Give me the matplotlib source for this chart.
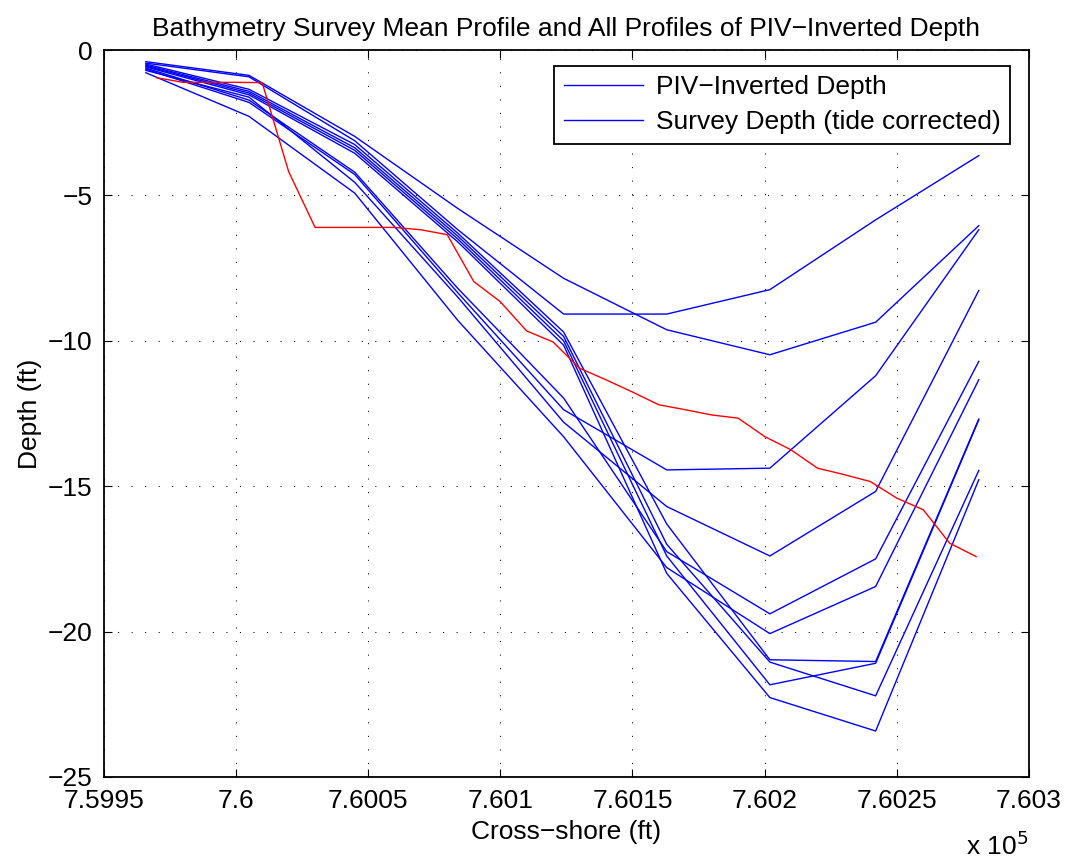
import matplotlib
matplotlib.use("Agg")
import matplotlib.pyplot as plt

# Cross-shore stations of the PIV-inverted profiles (ft)
profile_x = [759966, 760005, 760045, 760084, 760124, 760163, 760202, 760242, 760281]

# PIV-inverted depth profiles (ft), one list per profile
profile_01 = [-0.45, -0.92, -3.12, -6.18, -9.08, -9.08, -8.24, -5.84, -3.63]
profile_02 = [-0.40, -0.87, -2.97, -5.45, -7.85, -9.62, -10.48, -9.36, -6.04]
profile_03 = [-0.66, -1.80, -4.28, -8.35, -12.37, -14.44, -14.38, -11.20, -6.18]
profile_04 = [-0.70, -1.62, -4.55, -8.50, -12.80, -15.70, -17.40, -15.18, -8.27]
profile_05 = [-0.62, -1.72, -4.20, -8.20, -11.97, -17.25, -19.39, -17.50, -10.71]
profile_06 = [-0.78, -2.28, -4.92, -9.30, -13.30, -17.80, -20.07, -18.45, -11.34]
profile_07 = [-0.48, -1.35, -3.25, -6.30, -9.70, -16.30, -20.97, -21.03, -12.69]
profile_08 = [-0.52, -1.42, -3.36, -6.40, -9.85, -17.00, -21.05, -22.21, -14.46]
profile_09 = [-0.55, -1.48, -3.45, -6.50, -10.00, -17.40, -21.83, -21.09, -12.72]
profile_10 = [-0.58, -1.54, -3.55, -6.60, -10.15, -18.00, -22.27, -23.42, -14.78]

# Mean bathymetry survey profile (ft)
survey_x = [759970, 759980, 759990, 760000, 760010, 760020, 760030, 760040,
            760050, 760060, 760070, 760080, 760090, 760100, 760110, 760120,
            760130, 760140, 760150, 760160, 760170, 760180, 760190, 760200,
            760210, 760220, 760230, 760240, 760250, 760260, 760270, 760280]
survey_depth = [-0.95, -1.11, -1.11, -1.11, -1.12, -4.18, -6.10, -6.10,
                -6.10, -6.10, -6.18, -6.35, -7.96, -8.65, -9.66, -10.04,
                -10.94, -11.34, -11.76, -12.20, -12.37, -12.55, -12.66, -13.29,
                -13.75, -14.38, -14.60, -14.84, -15.41, -15.81, -16.96, -17.42]

x_ticks = [759950, 760000, 760050, 760100, 760150, 760200, 760250, 760300]
x_tick_labels = ["7.5995", "7.6", "7.6005", "7.601", "7.6015", "7.602", "7.6025", "7.603"]
y_ticks = [-25, -20, -15, -10, -5, 0]
y_tick_labels = ["\u221225", "\u221220", "\u221215", "\u221210", "\u22125", "0"]
legend_labels = ["PIV\u2212Inverted Depth", "Survey Depth (tide corrected)"]

plt.rcParams["font.family"] = ["Liberation Sans", "DejaVu Sans"]
FS = 19

fig = plt.figure(figsize=(10.73, 8.63), dpi=100)
ax = fig.add_axes([0.0965, 0.0997, 0.8625, 0.8423])

profiles = [profile_01, profile_02, profile_03, profile_04, profile_05,
            profile_06, profile_07, profile_08, profile_09, profile_10]
handles = []
for depth in profiles:
    (h,) = ax.plot(profile_x, depth, color=(0, 0, 1), lw=1.0)
    handles.append(h)
ax.plot(survey_x, survey_depth, color=(1, 0, 0), lw=1.0)

ax.set_xlim(x_ticks[0], x_ticks[-1])
ax.set_ylim(-25, 0)
ax.set_xticks(x_ticks)
ax.set_xticklabels(x_tick_labels)
ax.set_yticks(y_ticks)
ax.set_yticklabels(y_tick_labels)

ax.grid(True, color="black", linestyle=(0, (1, 12)), linewidth=0.75)
ax.tick_params(direction="in", length=6, width=0.8, top=True, right=True,
               labelsize=FS)
ax.tick_params(axis="x", pad=9)
ax.tick_params(axis="y", pad=8)
for s in ax.spines.values():
    s.set_linewidth(1.3)

ax.set_title("Bathymetry Survey Mean Profile and All Profiles of PIV\u2212Inverted Depth",
             fontsize=FS, pad=10)
ax.set_xlabel("Cross\u2212shore (ft)", fontsize=FS, labelpad=5)
ax.set_ylabel("Depth (ft)", fontsize=FS, labelpad=4)

fig.text(0.958, 0.004, r"x 10$^{5}$", fontsize=FS, ha="right", va="bottom")

leg = ax.legend(handles[:2], legend_labels, loc="upper right",
                bbox_to_anchor=(0.9795, 0.978), borderaxespad=0,
                fontsize=FS, fancybox=False, framealpha=1, edgecolor="black",
                handlelength=3.0, borderpad=0.35, labelspacing=0.42,
                handletextpad=0.5)
leg.get_frame().set_linewidth(1.3)

fig.savefig("out.png", dpi=100)
